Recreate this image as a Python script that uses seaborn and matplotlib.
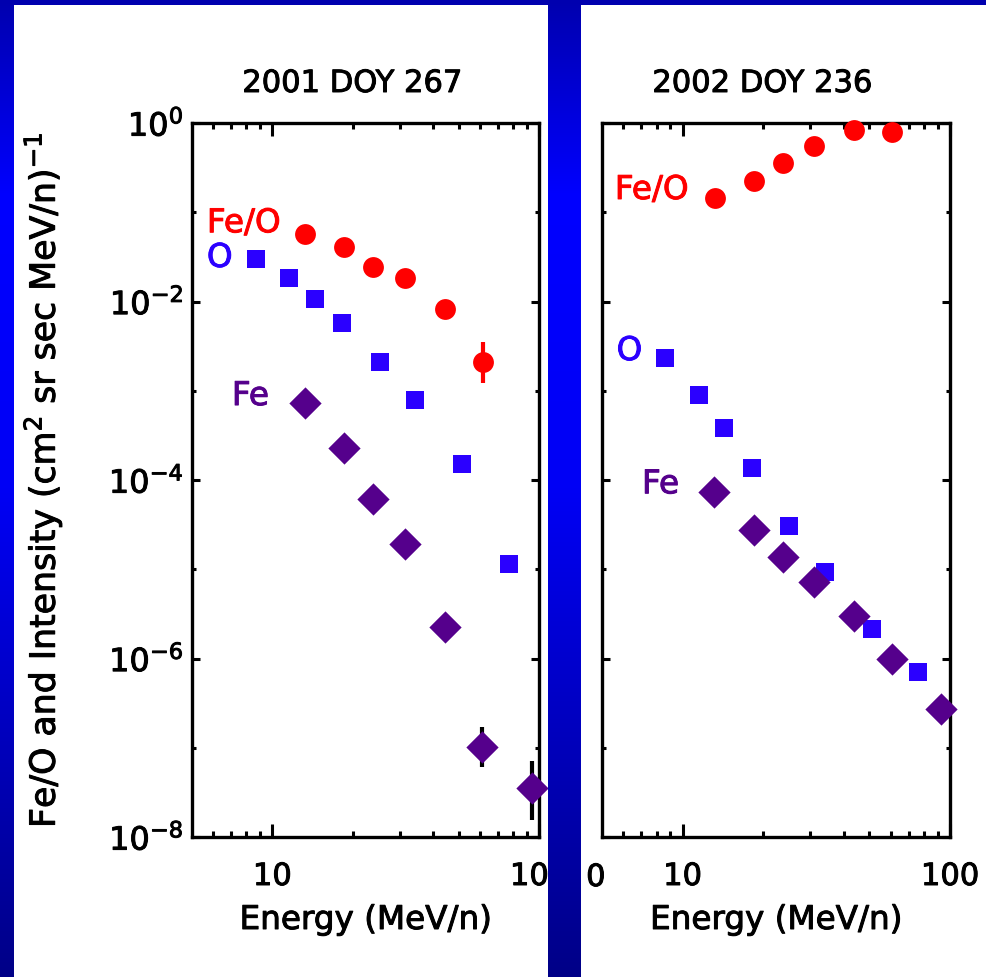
import numpy as np
import matplotlib
matplotlib.use("Agg")
import matplotlib.pyplot as plt
import matplotlib.patheffects as pe
from matplotlib.text import Text
from matplotlib.ticker import FixedLocator, FixedFormatter, NullFormatter
from matplotlib.patches import Rectangle
import seaborn as sns

# ---------------- data ----------------
titles = ["2001 DOY 267", "2002 DOY 236"]

# panel 1 : 2001 DOY 267
p1_feo_energy = [13.3, 18.6, 23.9, 31.5, 44.4, 61.5]
p1_feo_value = [0.0566, 0.0411, 0.0245, 0.0182, 0.00817, 0.00212]
p1_o_energy = [8.67, 11.55, 14.45, 18.3, 25.3, 34.3, 51.6, 77.2]
p1_o_value = [0.0299, 0.0185, 0.0107, 0.00578, 0.00212, 7.87e-4, 1.51e-4, 1.15e-5]
p1_fe_energy = [13.3, 18.6, 23.9, 31.5, 44.4, 61.3, 93.9]
p1_fe_value = [7.23e-4, 2.27e-4, 6.12e-5, 1.92e-5, 2.27e-6, 1.03e-7, 3.51e-8]
# error bars (energy, low, high)
p1_feo_bar_energy = [61.5]
p1_feo_bar_low = [1.21e-3]
p1_feo_bar_high = [3.55e-3]
p1_fe_bar_energy = [61.3, 93.9]
p1_fe_bar_low = [6.04e-8, 1.55e-8]
p1_fe_bar_high = [1.72e-7, 7.11e-8]

# panel 2 : 2002 DOY 236
p2_feo_energy = [13.2, 18.5, 23.8, 31.1, 43.9, 60.8]
p2_feo_value = [0.146, 0.224, 0.359, 0.553, 0.835, 0.787]
p2_o_energy = [8.6, 11.5, 14.3, 18.2, 25.1, 34.1, 50.9, 76.1]
p2_o_value = [2.35e-3, 8.96e-4, 3.79e-4, 1.35e-4, 3.05e-5, 9.25e-6, 2.12e-6, 7.0e-7]
p2_fe_energy = [13.1, 18.5, 23.7, 31.1, 43.9, 60.8, 92.5]
p2_fe_value = [7.4e-5, 2.75e-5, 1.38e-5, 7.14e-6, 3.02e-6, 1.0e-6, 2.72e-7]

series_labels = ["Fe/O", "O", "Fe"]
x_limits = [5, 100]
y_limits = [1e-8, 1e0]
x_major_ticks = [10, 100]
x_major_labels = ["10", "100"]
x_minor_ticks = [6, 7, 8, 9, 20, 30, 40, 50, 60, 70, 80, 90]
y_major_ticks = [1e0, 1e-2, 1e-4, 1e-6, 1e-8]
y_major_labels = [r"$10^{0}$", r"$10^{-2}$", r"$10^{-4}$", r"$10^{-6}$", r"$10^{-8}$"]
y_minor_ticks = [1e-1, 1e-3, 1e-5, 1e-7]
x_label = "Energy (MeV/n)"
y_label = r"Fe/O and Intensity (cm$^2$ sr sec MeV/n)$^{-1}$"

# ---------------- style ----------------
sns.set_theme(style="white")
plt.rcParams["font.family"] = ["DejaVu Sans"]
plt.rcParams["mathtext.fontset"] = "dejavusans"

RED = "#FF0000"
BLUE = "#2B00FF"
PURPLE = "#55008C"
FS = 22
LFS = 23.5

W, H = 987, 977
fig = plt.figure(figsize=(W / 100, H / 100), dpi=100)
fig.patch.set_facecolor("#0000E0")

# gradient background
stops = [0.0, 0.2, 0.5, 1.0]
blues = [175, 255, 245, 135]
yy = np.linspace(0, 1, 400)
bvals = np.interp(yy, stops, blues) / 255.0
grad = np.zeros((400, 1, 3))
grad[:, 0, 2] = bvals

bg = fig.add_axes([0, 0, 1, 1], zorder=-10)
bg.imshow(grad, aspect="auto", extent=[0, 1, 0, 1], origin="upper")
bg.set_axis_off()

# white panels
top_gap = 4.5 / H
fig.patches.append(Rectangle((14.5 / W, 0), (548 - 14.5) / W, 1 - top_gap,
                             transform=fig.transFigure, facecolor="white",
                             edgecolor="none", zorder=-5))
fig.patches.append(Rectangle((581 / W, 0), (W - 581) / W, 1 - top_gap,
                             transform=fig.transFigure, facecolor="white",
                             edgecolor="none", zorder=-5))

ax_bottom = (H - 837) / H
ax_height = 714 / H
ax1 = fig.add_axes([192 / W, ax_bottom, 347 / W, ax_height])
ax2 = fig.add_axes([602 / W, ax_bottom, 348 / W, ax_height])


def draw_panel(ax, feo_e, feo_v, o_e, o_v, fe_e, fe_v):
    sns.scatterplot(x=o_e, y=o_v, marker="s", s=172, color=BLUE, linewidth=0,
                    ax=ax, zorder=3, clip_on=False)
    sns.scatterplot(x=fe_e, y=fe_v, marker="D", s=270, color=PURPLE, linewidth=0,
                    ax=ax, zorder=4, clip_on=False)
    sns.scatterplot(x=feo_e, y=feo_v, marker="o", s=225, color=RED, linewidth=0,
                    ax=ax, zorder=5, clip_on=False)
    ax.set_xscale("log")
    ax.set_yscale("log")
    ax.set_xlim(*x_limits)
    ax.set_ylim(*y_limits)
    ax.set_facecolor("none")
    for sp in ax.spines.values():
        sp.set_linewidth(2.4)
        sp.set_color("black")
        sp.set_visible(True)
    ax.xaxis.set_major_locator(FixedLocator(x_major_ticks))
    ax.xaxis.set_major_formatter(FixedFormatter(x_major_labels))
    ax.xaxis.set_minor_locator(FixedLocator(x_minor_ticks))
    ax.xaxis.set_minor_formatter(NullFormatter())
    ax.yaxis.set_major_locator(FixedLocator(y_major_ticks))
    ax.yaxis.set_major_formatter(FixedFormatter(y_major_labels))
    ax.yaxis.set_minor_locator(FixedLocator(y_minor_ticks))
    ax.yaxis.set_minor_formatter(NullFormatter())
    ax.tick_params(axis="x", which="major", direction="in", length=9.5, width=2.2,
                   top=True, bottom=True, labelsize=FS, pad=18, color="black",
                   labelcolor="black")
    ax.tick_params(axis="x", which="minor", direction="in", length=4.5, width=2.2,
                   top=True, bottom=True, color="black")
    ax.tick_params(axis="y", which="major", direction="in", length=6, width=2.2,
                   left=True, right=True, labelsize=23, pad=6, color="black",
                   labelcolor="black")
    ax.tick_params(axis="y", which="minor", direction="in", length=3, width=2.2,
                   left=True, right=True, color="black")
    ax.set_xlabel(x_label, fontsize=23.5, color="black")
    ax.xaxis.set_label_coords(0.5, -(903 - 837) / 714)
    ax.grid(False)


def draw_bars(ax, e, lo, hi, v, color):
    v = np.asarray(v)
    yerr = [v - np.asarray(lo), np.asarray(hi) - v]
    ax.errorbar(e, v, yerr=yerr, fmt="none", ecolor=color, elinewidth=3.0,
                capsize=0, zorder=2, clip_on=False)


draw_panel(ax1, p1_feo_energy, p1_feo_value, p1_o_energy, p1_o_value,
           p1_fe_energy, p1_fe_value)
draw_bars(ax1, p1_feo_bar_energy, p1_feo_bar_low, p1_feo_bar_high,
          [p1_feo_value[5]], RED)
draw_bars(ax1, p1_fe_bar_energy, p1_fe_bar_low, p1_fe_bar_high,
          [p1_fe_value[5], p1_fe_value[6]], "black")
ax1.set_ylabel(y_label, fontsize=25, color="black")
ax1.yaxis.set_label_coords(-(192 - 64) / 347, 0.5)

draw_panel(ax2, p2_feo_energy, p2_feo_value, p2_o_energy, p2_o_value,
           p2_fe_energy, p2_fe_value)
ax2.tick_params(axis="y", which="both", labelleft=False)

# titles
ax1.text(0.461, 1 + (123 - 92) / 714, titles[0], transform=ax1.transAxes,
         ha="center", va="baseline", fontsize=FS, color="black")
ax2.text(0.46, 1 + (123 - 92) / 714, titles[1], transform=ax2.transAxes,
         ha="center", va="baseline", fontsize=FS, color="black")

# in-plot labels
ax1.text(0.043, 0.847, series_labels[0], transform=ax1.transAxes, color=RED,
         fontsize=LFS, ha="left", va="baseline")
ax1.text(0.043, 0.7985, series_labels[1], transform=ax1.transAxes, color=BLUE,
         fontsize=LFS, ha="left", va="baseline")
ax1.text(0.115, 0.605, series_labels[2], transform=ax1.transAxes, color=PURPLE,
         fontsize=LFS, ha="left", va="baseline")
ax2.text(0.037, 0.8936, series_labels[0], transform=ax2.transAxes, color=RED,
         fontsize=LFS, ha="left", va="baseline")
ax2.text(0.042, 0.668, series_labels[1], transform=ax2.transAxes, color=BLUE,
         fontsize=LFS, ha="left", va="baseline")
ax2.text(0.115, 0.4814, series_labels[2], transform=ax2.transAxes, color=PURPLE,
         fontsize=LFS, ha="left", va="baseline")

# stray label fragment right of the divider
fig.text(605.5 / W, (H - 886) / H, "0", ha="right", va="baseline",
         fontsize=FS, color="black", zorder=1)

# divider band on top
band = fig.add_axes([548 / W, 0, 33 / W, 1], zorder=10)
band.imshow(grad, aspect="auto", extent=[0, 1, 0, 1], origin="upper")
band.set_axis_off()

# slightly heavier text strokes
fig.canvas.draw()
for t in fig.findobj(Text):
    if t.get_text():
        t.set_path_effects([pe.withStroke(linewidth=0.7, foreground=t.get_color())])

fig.savefig("out.png", dpi=100)
